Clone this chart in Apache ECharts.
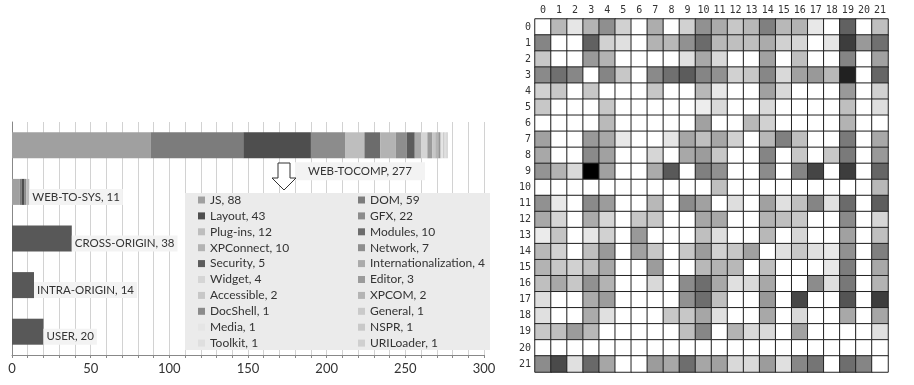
<!DOCTYPE html>
<html>
<head>
<meta charset="utf-8">
<script src="https://cdn.jsdelivr.net/npm/echarts@6/dist/echarts.min.js"></script>
<style>
html,body{margin:0;padding:0;background:#fff;}
#chart{width:914px;height:385px;}
</style>
</head>
<body>
<div id="chart"></div>
<script>
// ---- Left chart data ----
const barCategories = ['USER', 'INTRA-ORIGIN', 'CROSS-ORIGIN', 'WEB-TO-SYS', 'WEB-TOCOMP'];
const barTotals = [20, 14, 38, 11, 277];
const otherCounts = [20, 14, 38, 0, 0];
const components = ['JS', 'DOM', 'Layout', 'GFX', 'Plug-ins', 'Modules', 'XPConnect', 'Network', 'Security',
  'Internationalization', 'Widget', 'Editor', 'Accessible', 'XPCOM', 'DocShell', 'General', 'Media', 'NSPR',
  'Toolkit', 'URILoader'];
const webToCompCounts = [88, 59, 43, 22, 12, 10, 10, 7, 5, 4, 4, 3, 2, 2, 1, 1, 1, 1, 1, 1];
const webToSysCounts = [5, 1, 2, 1, 2, 0, 0, 0, 0, 0, 0, 0, 0, 0, 0, 0, 0, 0, 0, 0];
const xTicks = [0, 50, 100, 150, 200, 250, 300];

// ---- Right heatmap data ----
const heatLabels = ['0','1','2','3','4','5','6','7','8','9','10','11','12','13','14','15','16','17','18','19','20','21'];
const heatRows = [
  [0,28,10,30,44,18,0,32,0,18,43,33,22,28,50,28,30,9,0,62,0,25],
  [48,0,0,62,18,12,0,30,28,43,58,28,25,25,33,18,16,0,10,76,40,56],
  [22,0,0,40,30,0,0,0,0,12,34,15,0,0,37,0,25,0,0,48,0,37],
  [46,56,47,0,48,22,0,46,56,64,48,43,18,22,47,15,37,40,28,87,0,60],
  [18,22,0,22,0,0,0,22,0,0,28,9,0,0,37,15,0,0,0,40,0,18],
  [22,0,0,0,22,0,0,0,0,0,7,15,0,0,15,0,0,0,0,25,0,13],
  [0,0,0,0,27,0,0,0,0,0,37,0,0,28,18,0,0,0,0,30,0,0],
  [37,0,0,40,34,9,0,0,10,35,25,35,18,0,28,50,25,0,0,52,0,34],
  [34,0,0,46,37,0,0,16,0,34,39,22,0,0,48,0,22,0,22,52,0,40],
  [42,30,15,100,37,0,0,33,65,0,50,43,0,0,45,0,48,73,0,76,0,60],
  [0,0,0,0,0,0,0,0,0,0,0,25,0,0,0,0,0,0,0,0,0,28],
  [43,9,0,46,39,0,0,28,0,45,37,0,13,0,37,12,25,48,12,58,0,63],
  [34,16,0,33,16,0,22,22,0,0,35,34,0,0,30,25,22,0,0,46,0,16],
  [8,23,0,10,18,0,40,0,0,0,25,13,0,0,28,0,16,0,0,37,0,25],
  [28,18,0,25,40,0,37,22,0,22,39,18,22,37,0,12,22,12,9,43,0,50],
  [30,22,18,25,34,0,0,39,0,0,28,30,28,0,25,0,0,0,9,51,0,34],
  [25,34,22,43,30,0,0,15,0,45,57,34,12,15,34,0,0,45,13,53,0,30],
  [13,0,0,33,39,0,0,0,0,43,57,25,0,0,40,0,72,0,0,67,0,76],
  [12,0,0,33,12,0,0,0,22,22,35,12,0,0,34,0,15,0,0,34,0,35],
  [22,25,39,28,0,0,0,0,0,25,47,0,30,15,15,0,37,0,0,0,0,12],
  [0,0,0,0,0,0,0,0,0,0,0,0,0,0,0,0,0,0,0,0,0,0],
  [45,71,12,59,35,0,0,39,34,57,35,37,15,15,39,12,47,54,0,57,48,0]
];

// ---- styles ----
const compColors = ['#a0a0a0', '#7c7c7c', '#4e4e4e', '#8c8c8c', '#bebebe', '#6c6c6c', '#b3b3b3', '#8e8e8e',
  '#5c5c5c', '#ababab', '#d5d5d5', '#9b9b9b', '#c7c7c7', '#b4b4b4', '#8b8b8b', '#cacaca', '#e5e5e5', '#c9c9c9',
  '#dfdfdf', '#cfcfcf'];
const FONT = 'Lato';
const BARW = 26;

const series = [];
components.forEach((name, i) => {
  series.push({
    name: name, type: 'bar', stack: 'total', xAxisIndex: 0, yAxisIndex: 0, barWidth: BARW,
    itemStyle: { color: compColors[i] }, emphasis: { disabled: true },
    data: barCategories.map(c => c === 'WEB-TOCOMP' ? webToCompCounts[i] : (c === 'WEB-TO-SYS' ? webToSysCounts[i] : 0))
  });
});
series.push({
  name: 'Other', type: 'bar', stack: 'total', xAxisIndex: 0, yAxisIndex: 0, barWidth: BARW,
  itemStyle: { color: '#585858' }, emphasis: { disabled: true }, data: otherCounts
});
series.push({
  name: 'labels', type: 'bar', xAxisIndex: 0, yAxisIndex: 0, barWidth: BARW, barGap: '-100%', silent: true,
  itemStyle: { color: 'rgba(0,0,0,0)' }, z: 6,
  label: {
    show: true, position: 'right', distance: 0, offset: [0, 5], formatter: '{b}, {c}',
    fontFamily: FONT, fontSize: 11.5, color: '#333', backgroundColor: '#f3f3f3', padding: [2, 3, 2, 3]
  },
  data: barTotals.map((v, i) => barCategories[i] === 'WEB-TOCOMP'
    ? { value: v, label: { position: [283, 30], offset: [0, 0], padding: [3, 13, 3, 13] } }
    : v)
});
series.push({
  name: 'heat', type: 'heatmap', xAxisIndex: 1, yAxisIndex: 1,
  itemStyle: { borderColor: '#222', borderWidth: 1 }, emphasis: { disabled: true },
  data: heatRows.flatMap((row, r) => row.map((v, c) => [c, r, v]))
});

const legendText = { fontFamily: FONT, fontSize: 12, color: '#333', lineHeight: 14 };
const legendFmt = n => n + ', ' + webToCompCounts[components.indexOf(n)];

const option = {
  animation: false,
  grid: [
    { left: 12, right: 430, top: 122, bottom: 30 },
    { left: 535, right: 26, top: 19, bottom: 13 }
  ],
  xAxis: [
    {
      type: 'value', gridIndex: 0, min: 0, max: 300, interval: 10,
      axisLine: { show: true, lineStyle: { color: '#888' } },
      axisTick: { show: true, length: 3, lineStyle: { color: '#888' } },
      axisLabel: { formatter: v => xTicks.includes(v) ? String(v) : '', fontFamily: FONT, fontSize: 13, color: '#333', margin: 7 },
      splitLine: { show: true, lineStyle: { color: '#d2d2d2' } }
    },
    {
      type: 'category', gridIndex: 1, position: 'top', data: heatLabels,
      axisLine: { show: false }, axisTick: { show: false },
      axisLabel: { fontFamily: 'DejaVu Sans Mono', fontSize: 10, color: '#333', margin: 4, interval: 0 },
      splitLine: { show: false }
    }
  ],
  yAxis: [
    {
      type: 'category', gridIndex: 0, data: barCategories,
      axisLine: { show: true, lineStyle: { color: '#888' } }, axisTick: { show: false },
      axisLabel: { show: false }
    },
    {
      type: 'category', gridIndex: 1, inverse: true, data: heatLabels,
      axisLine: { show: false }, axisTick: { show: false },
      axisLabel: { fontFamily: 'DejaVu Sans Mono', fontSize: 10, color: '#333', margin: 4, interval: 0 }
    }
  ],
  visualMap: {
    show: false, type: 'continuous', min: 0, max: 100, seriesIndex: series.length - 1,
    inRange: { color: ['#ffffff', '#000000'] }
  },
  legend: [
    {
      orient: 'vertical', left: 198, top: 193, padding: 0, itemWidth: 7, itemHeight: 7, itemGap: 1.9, icon: 'rect',
      data: components.filter((_, i) => i % 2 === 0), formatter: legendFmt, textStyle: legendText,
      selectedMode: false, z: 10
    },
    {
      orient: 'vertical', left: 358, top: 193, padding: 0, itemWidth: 7, itemHeight: 7, itemGap: 1.9, icon: 'rect',
      data: components.filter((_, i) => i % 2 === 1), formatter: legendFmt, textStyle: legendText,
      selectedMode: false, z: 10
    }
  ],
  graphic: [
    { type: 'rect', z: 8, shape: { x: 185, y: 193, width: 305, height: 157 }, style: { fill: '#ebebeb' } },
    {
      type: 'polygon', z: 8,
      shape: { points: [[278, 163], [290, 163], [290, 178], [296, 178], [284, 190], [272, 178], [278, 178]] },
      style: { fill: '#fff', stroke: '#333', lineWidth: 1 }
    }
  ],
  series: series
};

const chart = echarts.init(document.getElementById('chart'), null, { renderer: 'canvas' });
chart.setOption(option);
</script>
</body>
</html>
